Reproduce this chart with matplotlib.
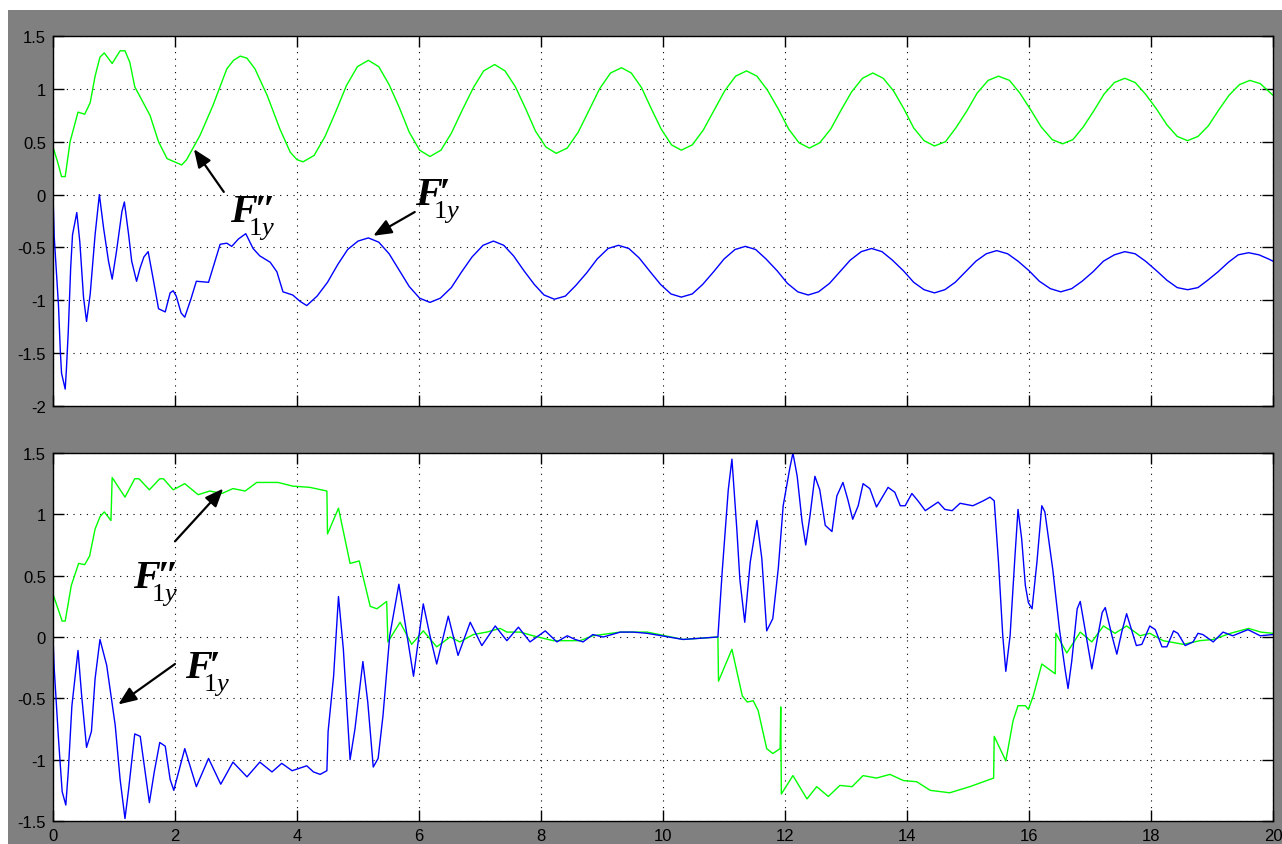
import matplotlib
matplotlib.use('Agg')
import matplotlib.pyplot as plt
from matplotlib.patches import Rectangle
from matplotlib.transforms import offset_copy

plt.rcParams['font.family'] = ['Liberation Sans', 'DejaVu Sans']
plt.rcParams['axes.unicode_minus'] = False
plt.rcParams['mathtext.fontset'] = 'custom'
plt.rcParams['mathtext.rm'] = 'Liberation Serif'
plt.rcParams['mathtext.it'] = 'Liberation Serif:italic'

# верхний график: F''_1y (зелёный) и F'_1y (синий)
top_t_green = [0.00, 0.08, 0.14, 0.20, 0.28, 0.41, 0.52, 0.61, 0.69, 0.77, 0.84, 0.97, 1.10, 1.18,
               1.26, 1.34, 1.59, 1.73, 1.87, 2.11, 2.19, 2.41, 2.62, 2.85, 2.96, 3.07, 3.18, 3.31,
               3.51, 3.72, 3.89, 4.00, 4.10,
               4.28, 4.46, 4.64, 4.81, 4.99, 5.17, 5.34, 5.51, 5.68, 5.84, 6.01, 6.18,
               6.36, 6.53, 6.71, 6.89, 7.06, 7.24, 7.41, 7.58, 7.75, 7.91, 8.08, 8.25,
               8.43, 8.61, 8.79, 8.96, 9.14, 9.32, 9.48, 9.65, 9.81, 9.97, 10.14, 10.30,
               10.48, 10.66, 10.84, 11.01, 11.19, 11.37, 11.54, 11.71, 11.89, 12.06, 12.23, 12.40,
               12.57, 12.75, 12.92, 13.09, 13.27, 13.44, 13.61, 13.78, 13.95, 14.11, 14.28, 14.45,
               14.63, 14.80, 14.98, 15.15, 15.33, 15.50, 15.68, 15.85, 16.03, 16.20, 16.38, 16.55,
               16.72, 16.89, 17.06, 17.23, 17.40, 17.57, 17.74, 17.91, 18.09, 18.26, 18.43, 18.60,
               18.77, 18.94, 19.11, 19.28, 19.45, 19.62, 19.79, 19.96, 20.00]
top_green = [0.45, 0.30, 0.17, 0.17, 0.50, 0.78, 0.76, 0.87, 1.12, 1.30, 1.34, 1.24, 1.36, 1.36,
             1.25, 1.02, 0.75, 0.50, 0.34, 0.28, 0.33, 0.56, 0.84, 1.19, 1.27, 1.31, 1.29, 1.19,
             0.94, 0.62, 0.40, 0.33, 0.31,
             0.37, 0.55, 0.79, 1.03, 1.21, 1.27, 1.21, 1.04, 0.82, 0.59, 0.42, 0.36,
             0.42, 0.58, 0.80, 1.01, 1.17, 1.23, 1.17, 1.02, 0.81, 0.60, 0.45, 0.39,
             0.44, 0.59, 0.80, 1.00, 1.15, 1.20, 1.15, 1.01, 0.81, 0.62, 0.47, 0.42,
             0.47, 0.61, 0.80, 0.98, 1.12, 1.17, 1.12, 0.99, 0.81, 0.62, 0.49, 0.44,
             0.49, 0.62, 0.80, 0.97, 1.10, 1.15, 1.10, 0.98, 0.81, 0.63, 0.51, 0.46,
             0.50, 0.63, 0.79, 0.96, 1.08, 1.12, 1.08, 0.96, 0.80, 0.64, 0.52, 0.48,
             0.52, 0.64, 0.79, 0.95, 1.06, 1.10, 1.06, 0.95, 0.81, 0.66, 0.55, 0.51,
             0.55, 0.65, 0.80, 0.94, 1.04, 1.08, 1.05, 0.96, 0.94]

top_t_blue = [0.00, 0.02, 0.09, 0.12, 0.14, 0.20, 0.22, 0.25, 0.29, 0.32, 0.39, 0.44, 0.50, 0.55,
              0.61, 0.69, 0.76, 0.83, 0.91, 0.97, 1.04, 1.13, 1.17, 1.24, 1.29, 1.37, 1.43, 1.49,
              1.56, 1.64, 1.73, 1.84, 1.92, 1.97, 2.02, 2.10, 2.16, 2.26, 2.35, 2.55, 2.74, 2.85,
              2.93, 3.04, 3.16, 3.28, 3.39, 3.56, 3.67, 3.77, 3.93, 4.05, 4.16,
              4.33, 4.50, 4.67, 4.83, 5.00, 5.17, 5.34, 5.51, 5.68, 5.84, 6.01, 6.18,
              6.35, 6.53, 6.70, 6.87, 7.05, 7.22, 7.39, 7.55, 7.72, 7.89, 8.05, 8.22,
              8.40, 8.57, 8.75, 8.92, 9.10, 9.27, 9.44, 9.61, 9.79, 9.96, 10.13, 10.30,
              10.48, 10.65, 10.83, 11.00, 11.18, 11.35, 11.52, 11.69, 11.87, 12.04, 12.21, 12.38,
              12.55, 12.73, 12.90, 13.07, 13.25, 13.42, 13.59, 13.76, 13.94, 14.11, 14.28, 14.45,
              14.62, 14.79, 14.96, 15.13, 15.30, 15.47, 15.65, 15.82, 16.00, 16.17, 16.35, 16.52,
              16.70, 16.87, 17.05, 17.22, 17.40, 17.57, 17.74, 17.91, 18.09, 18.26, 18.43, 18.60,
              18.77, 18.93, 19.10, 19.27, 19.43, 19.60, 19.77, 19.93, 20.00]
top_blue = [0.00, -0.40, -1.05, -1.48, -1.69, -1.84, -1.65, -1.30, -0.69, -0.38, -0.17, -0.45, -0.97, -1.20,
            -0.94, -0.38, 0.00, -0.32, -0.63, -0.80, -0.54, -0.16, -0.07, -0.38, -0.63, -0.82, -0.69, -0.59,
            -0.54, -0.79, -1.08, -1.11, -0.93, -0.91, -0.96, -1.12, -1.16, -0.99, -0.82, -0.83, -0.47, -0.46,
            -0.49, -0.42, -0.37, -0.51, -0.58, -0.64, -0.73, -0.92, -0.95, -1.01, -1.05,
            -0.96, -0.83, -0.66, -0.52, -0.44, -0.41, -0.45, -0.56, -0.72, -0.87, -0.98, -1.02,
            -0.98, -0.88, -0.73, -0.59, -0.48, -0.44, -0.48, -0.58, -0.72, -0.85, -0.95, -0.99,
            -0.96, -0.86, -0.74, -0.61, -0.51, -0.48, -0.51, -0.60, -0.73, -0.85, -0.94, -0.97,
            -0.94, -0.85, -0.73, -0.61, -0.52, -0.49, -0.52, -0.61, -0.72, -0.84, -0.92, -0.95,
            -0.92, -0.84, -0.73, -0.62, -0.54, -0.51, -0.54, -0.62, -0.72, -0.83, -0.90, -0.93,
            -0.90, -0.83, -0.73, -0.63, -0.56, -0.53, -0.56, -0.63, -0.72, -0.82, -0.89, -0.92,
            -0.89, -0.82, -0.73, -0.63, -0.57, -0.54, -0.56, -0.63, -0.72, -0.81, -0.88, -0.90,
            -0.88, -0.81, -0.73, -0.64, -0.57, -0.55, -0.57, -0.61, -0.63]

# нижний график
bot_t_green = [0.00, 0.15, 0.20, 0.30, 0.42, 0.52, 0.60, 0.69, 0.77, 0.84, 0.95, 0.97, 1.18, 1.34,
               1.41, 1.58, 1.75, 1.81, 1.97, 2.16, 2.38, 2.57, 2.77, 2.95, 3.15, 3.34, 3.69, 3.93,
               4.21, 4.49, 4.50, 4.68, 4.87, 5.02, 5.20, 5.31, 5.47, 5.49, 5.69, 5.88, 6.07, 6.29,
               6.51, 6.67, 6.89, 7.11, 7.33, 7.44, 7.66, 7.87, 8.20, 8.64, 8.85, 9.30, 9.74, 10.33,
               10.90, 10.91, 11.13, 11.30, 11.38, 11.48, 11.56, 11.70, 11.80, 11.92, 11.93, 11.94,
               12.13, 12.36, 12.52, 12.71, 12.90, 13.10, 13.28, 13.50, 13.72, 13.94, 14.16, 14.38,
               14.70, 15.03, 15.42, 15.43, 15.62, 15.74, 15.82, 15.94, 15.99, 16.07, 16.21, 16.43,
               16.44, 16.62, 16.84, 17.03, 17.22, 17.41, 17.60, 17.82, 17.98, 18.20, 18.53, 18.80,
               19.02, 19.30, 19.60, 19.80, 20.00]
bot_green = [0.35, 0.13, 0.13, 0.42, 0.60, 0.59, 0.66, 0.88, 0.98, 1.02, 0.95, 1.30, 1.14, 1.29,
             1.29, 1.20, 1.29, 1.29, 1.20, 1.25, 1.16, 1.19, 1.17, 1.21, 1.19, 1.26, 1.26, 1.23,
             1.22, 1.19, 0.84, 1.05, 0.60, 0.62, 0.25, 0.23, 0.29, -0.04, 0.12, -0.06, 0.05, -0.08,
             0.00, -0.04, 0.02, 0.04, 0.07, 0.04, 0.04, 0.01, -0.03, -0.03, 0.01, 0.04, 0.04, -0.02,
             0.00, -0.36, -0.10, -0.48, -0.53, -0.52, -0.60, -0.91, -0.95, -0.91, -0.57, -1.28,
             -1.13, -1.32, -1.22, -1.30, -1.21, -1.22, -1.13, -1.15, -1.12, -1.17, -1.18, -1.25,
             -1.27, -1.22, -1.15, -0.81, -1.01, -0.68, -0.56, -0.56, -0.59, -0.48, -0.22, -0.30,
             0.03, -0.13, 0.04, -0.04, 0.09, 0.03, 0.09, 0.01, 0.03, -0.03, -0.06, -0.03,
             -0.02, 0.03, 0.07, 0.04, 0.03]

bot_t_blue = [0.00, 0.02, 0.09, 0.15, 0.21, 0.25, 0.31, 0.41, 0.47, 0.55, 0.63, 0.69, 0.77, 0.88,
              1.02, 1.10, 1.18, 1.24, 1.34, 1.43, 1.51, 1.58, 1.66, 1.75, 1.84, 1.92, 1.98, 2.16,
              2.35, 2.55, 2.75, 2.95, 3.18, 3.39, 3.59, 3.75, 3.92, 4.16, 4.27, 4.38, 4.49, 4.51,
              4.60, 4.68, 4.76, 4.87, 4.95, 5.08, 5.16, 5.25, 5.33, 5.41, 5.52, 5.67, 5.77, 5.91,
              6.07, 6.18, 6.29, 6.48, 6.64, 6.84, 7.03, 7.25, 7.44, 7.63, 7.82, 8.07, 8.26, 8.43,
              8.56, 8.69, 8.85, 9.02, 9.30, 9.51, 9.74, 10.33, 10.90, 10.97, 11.07, 11.13, 11.21,
              11.26, 11.34, 11.43, 11.54, 11.62, 11.70, 11.80, 11.89, 11.97, 12.08, 12.13, 12.20,
              12.28, 12.34, 12.41, 12.49, 12.57, 12.66, 12.77, 12.85, 12.95, 13.03, 13.11, 13.20,
              13.28, 13.39, 13.50, 13.69, 13.80, 13.89, 13.97, 14.08, 14.18, 14.30, 14.51, 14.62,
              14.74, 14.87, 15.08, 15.25, 15.36, 15.43, 15.50, 15.57, 15.62, 15.69, 15.77, 15.82,
              15.88, 15.94, 15.99, 16.05, 16.13, 16.21, 16.26, 16.39, 16.50, 16.59, 16.64, 16.70,
              16.79, 16.84, 16.92, 17.03, 17.11, 17.20, 17.25, 17.36, 17.44, 17.52, 17.60, 17.76,
              17.85, 17.98, 18.07, 18.18, 18.26, 18.37, 18.44, 18.56, 18.69, 18.77, 18.85, 19.02,
              19.18, 19.34, 19.59, 19.79, 20.00]
bot_blue = [0.00, -0.26, -0.83, -1.26, -1.37, -1.10, -0.56, -0.11, -0.48, -0.90, -0.77, -0.34, -0.02, -0.23,
            -0.72, -1.16, -1.48, -1.24, -0.79, -0.81, -1.10, -1.35, -1.10, -0.86, -0.89, -1.16, -1.25, -0.91,
            -1.22, -0.99, -1.20, -1.02, -1.14, -1.02, -1.10, -1.03, -1.09, -1.05, -1.10, -1.12, -1.09, -0.77,
            -0.32, 0.33, -0.10, -1.00, -0.75, -0.20, -0.53, -1.06, -0.99, -0.64, 0.01, 0.43, 0.12, -0.32,
            0.27, 0.01, -0.22, 0.17, -0.15, 0.12, -0.07, 0.09, -0.03, 0.08, -0.04, 0.05, -0.04, 0.01,
            -0.02, -0.04, 0.02, 0.00, 0.04, 0.04, 0.03, -0.02, 0.00, 0.53, 1.20, 1.45, 0.88,
            0.47, 0.12, 0.61, 0.95, 0.64, 0.05, 0.15, 0.56, 1.07, 1.38, 1.50, 1.31,
            0.94, 0.75, 0.99, 1.31, 1.20, 0.91, 0.86, 1.15, 1.26, 1.12, 0.96, 1.07,
            1.25, 1.21, 1.06, 1.22, 1.18, 1.07, 1.07, 1.17, 1.11, 1.03, 1.10, 1.04,
            1.03, 1.09, 1.07, 1.11, 1.14, 1.11, 0.61, 0.01, -0.28, 0.01, 0.66, 1.04,
            0.80, 0.42, 0.28, 0.23, 0.61, 1.07, 1.02, 0.55, 0.06, -0.26, -0.42, -0.20,
            0.23, 0.29, 0.06, -0.26, -0.04, 0.20, 0.24, 0.01, -0.14, 0.04, 0.19, -0.07,
            -0.06, 0.09, 0.06, -0.08, -0.08, 0.05, 0.03, -0.07, -0.04, 0.03, 0.02, -0.04,
            0.04, 0.01, 0.06, 0.01, 0.02]

top_yticks = [-2, -1.5, -1, -0.5, 0, 0.5, 1, 1.5]
bot_yticks = [-1.5, -1, -0.5, 0, 0.5, 1, 1.5]
xticks = [0, 2, 4, 6, 8, 10, 12, 14, 16, 18, 20]

W, H = 1282, 845
fig = plt.figure(figsize=(W / 100, H / 100), dpi=100, facecolor='white')
fig.patches.append(Rectangle((8 / W, 0), 1, (H - 11) / H, transform=fig.transFigure,
                             facecolor='#808080', edgecolor='none', zorder=-10))

ax1 = fig.add_axes([53 / W, (H - 407) / H, 1220 / W, 370 / H])
ax2 = fig.add_axes([53 / W, (H - 822) / H, 1220 / W, 368 / H])


def style(ax, yticks, show_x):
    ax.set_facecolor('white')
    ax.set_xlim(0, 20)
    ax.set_ylim(yticks[0], yticks[-1])
    ax.set_xticks(xticks)
    ax.set_yticks(yticks)
    ax.set_yticklabels(['%g' % v for v in yticks])
    if show_x:
        ax.set_xticklabels([str(v) for v in xticks])
    else:
        ax.set_xticklabels([])
    ax.tick_params(direction='in', length=8, width=1, top=True, right=True,
                   labelsize=12, colors='black', pad=5)
    for s in ax.spines.values():
        s.set_color('black')
        s.set_linewidth(1)
    ax.grid(True, color='black', linestyle=(0, (1, 5)), linewidth=0.8)


style(ax1, top_yticks, False)
style(ax2, bot_yticks, True)

ax1.plot(top_t_green, top_green, color='#00ff00', lw=1.0)
ax1.plot(top_t_blue, top_blue, color='#0000ff', lw=1.0)
ax2.plot(bot_t_green, bot_green, color='#00ff00', lw=1.0)
ax2.plot(bot_t_blue, bot_blue, color='#0000ff', lw=1.0)

serif = ['Liberation Serif', 'DejaVu Serif']


def force_label(ax, x, y, primes):
    # F жирным курсивом, штрихи и нижний индекс 1y сдвинуты в пикселях
    ax.text(x, y, 'F', family=serif, style='italic', weight='bold', fontsize=29,
            va='baseline', ha='left')
    tr_p = offset_copy(ax.transData, fig=fig, x=24 * 0.72, y=0, units='points')
    ax.text(x, y, primes, transform=tr_p, family=serif, style='italic', weight='bold',
            fontsize=29, va='baseline', ha='left')
    tr_s = offset_copy(ax.transData, fig=fig, x=18 * 0.72, y=-13 * 0.72, units='points')
    ax.text(x, y, r'$\mathrm{1}y$', transform=tr_s, fontsize=19, va='baseline', ha='left')


arrow = dict(arrowstyle='-|>,head_length=1.1,head_width=0.45', color='black',
             lw=1.6, mutation_scale=10, shrinkA=0, shrinkB=0)

ax1.annotate('', xy=(2.31, 0.43), xytext=(2.80, 0.025), arrowprops=arrow)
force_label(ax1, 2.90, -0.25, '\u2033')
ax1.annotate('', xy=(5.25, -0.39), xytext=(5.93, -0.165), arrowprops=arrow)
force_label(ax1, 5.93, -0.09, '\u2032')

ax2.annotate('', xy=(2.79, 1.21), xytext=(2.0, 0.78), arrowprops=arrow)
force_label(ax2, 1.31, 0.41, '\u2033')
ax2.annotate('', xy=(1.07, -0.55), xytext=(2.0, -0.22), arrowprops=arrow)
force_label(ax2, 2.16, -0.33, '\u2032')

fig.savefig('out.png', dpi=100)
